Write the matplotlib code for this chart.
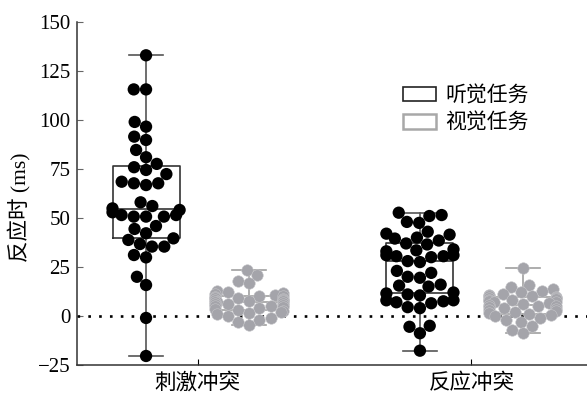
import numpy as np
import matplotlib
matplotlib.use("Agg")
import matplotlib.pyplot as plt
from matplotlib.patches import Patch

# conditions and tasks
conditions = ['刺激冲突', '反应冲突']
tasks = ['听觉任务', '视觉任务']

# individual reaction-time effects (ms)
audio_stim = [133, 115.6, 115.6, 99, 96.6, 91.5, 89.8, 84.7, 81, 77.6, 75.9,
              74.5, 72.4, 68.5, 67.7, 67.7, 66.8, 58, 56.1, 54.9, 54.1, 52.9,
              51.5, 51.5, 50.7, 50.7, 50.7, 45.9, 44.4, 42.2, 39.6, 38.8, 36.7,
              35.4, 35.4, 31.1, 29.9, 20, 15.8, -1, -20.4]
visual_stim = [23.5, 21, 18, 17, 13, 12, 11.5, 11, 10.5, 10, 10, 9.5, 9, 9,
               8.5, 8, 8, 7.5, 7.5, 7, 7, 6.5, 6, 6, 5.5, 5, 5, 4.5, 4, 3.5,
               3, 2.5, 2, 1.5, 1, 0, -1, -2, -3, -4.5]
audio_resp = [52.7, 51.5, 51, 48, 47.5, 43, 42, 41.5, 40, 39.5, 38.5, 37,
              36.5, 34, 33.5, 33, 31, 31, 30.5, 30.5, 30, 28, 27.5, 23, 22,
              20, 19.5, 16, 15.5, 15, 12, 11.5, 11, 10.5, 8, 8, 7.5, 7, 6.5,
              4.5, 4, -5.5, -5, -8.8, -17.7]
visual_resp = [24.3, 16, 15, 14, 13, 12, 11, 10.5, 10, 10, 9.5, 9, 9, 8.5, 8,
               8, 7.5, 7, 7, 6.5, 6, 5.5, 5, 5, 4.5, 4, 3.5, 3, 2.5, 2, 1.5,
               1, 0.5, 0, -1, -2, -3, -5, -7, -8.8]

# box summaries: q1, median, q3, whisker low, whisker high
box_q1 = [39.6, 3.0, 11.6, 0.8]
box_med = [54.4, 7.0, 28.0, 5.5]
box_q3 = [76.7, 10.0, 37.1, 9.5]
box_lo = [-20.4, -4.5, -17.7, -8.8]
box_hi = [133, 23.5, 52.7, 24.3]

groups = [audio_stim, visual_stim, audio_resp, visual_resp]
offset = 0.188
positions = [0 - offset, 0 + offset, 1 - offset, 1 + offset]
box_w = 0.245

black = '#000000'
grey = '#a4a4aa'
colors = [black, grey, black, grey]
edge_colors = ['#333333', '#a0a0a0', '#333333', '#a0a0a0']

plt.rcParams['font.family'] = ['Liberation Serif', 'Noto Sans CJK SC']
plt.rcParams['axes.unicode_minus'] = True

W, H, DPI = 5.87, 3.96, 100
fig = plt.figure(figsize=(W, H), dpi=DPI)
ax_rect = [0.1317, 0.0783, 0.8683, 0.8662]
ax = fig.add_axes(ax_rect)
xlim = (-0.439, 1.422)
ylim = (-25, 150)
ax.set_xlim(*xlim)
ax.set_ylim(*ylim)

# pixel scale used to lay out the swarms
px_x = W * DPI * ax_rect[2] / (xlim[1] - xlim[0])
px_y = H * DPI * ax_rect[3] / (ylim[1] - ylim[0])


def swarm(vals, diam, half_w):
    y = np.asarray(vals, dtype=float) * px_y
    xs = np.zeros(len(y))
    px, py = [], []
    for i in np.argsort(y):
        cands = [0.0]
        for a, b in zip(px, py):
            dy = y[i] - b
            if abs(dy) < diam:
                dx = np.sqrt(diam ** 2 - dy ** 2)
                cands += [a - dx, a + dx]
        cands.sort(key=abs)
        for c in cands:
            if all((c - a) ** 2 + (y[i] - b) ** 2 >= diam ** 2 - 1e-6
                   for a, b in zip(px, py)):
                break
        px.append(c)
        py.append(y[i])
        xs[i] = np.clip(c, -half_w, half_w)
    return xs / px_x


stats = []
for k in range(4):
    stats.append(dict(q1=box_q1[k], med=box_med[k], q3=box_q3[k],
                      whislo=box_lo[k], whishi=box_hi[k], fliers=[]))

for k in range(4):
    ec = edge_colors[k]
    wc = '#555555' if k % 2 == 0 else ec
    ax.bxp([stats[k]], positions=[positions[k]], widths=box_w,
           showfliers=False, manage_ticks=False,
           boxprops=dict(color=ec, lw=1.2),
           medianprops=dict(color=ec, lw=1.2),
           whiskerprops=dict(color=wc, lw=1.2),
           capprops=dict(color=wc, lw=1.2))

ax.axhline(0, color='black', lw=1.9, linestyle=(0, (1, 3.1)), zorder=2.5)

for k in range(4):
    diam = 12.3 if k % 2 == 0 else 11.5
    xs = swarm(groups[k], diam, box_w * px_x / 2)
    ax.scatter(positions[k] + xs, groups[k], s=(diam * 72 / DPI) ** 2,
               color=colors[k], edgecolors='none' if k % 2 == 0 else '#c4c4c8',
               linewidths=0.4, zorder=3)

ax.set_xticks([0, 1])
ax.set_xticklabels(conditions, fontsize=15.5)
ax.set_yticks([-25, 0, 25, 50, 75, 100, 125, 150])
ax.tick_params(axis='y', labelsize=15, direction='in', length=4.3,
               width=0.8, color='#666666', pad=5)
ax.tick_params(axis='x', direction='in', length=4.3, width=0.8, pad=6)

ax.spines['top'].set_visible(False)
ax.spines['right'].set_visible(False)
for s in ['left', 'bottom']:
    ax.spines[s].set_color('#333333')
    ax.spines[s].set_linewidth(1.1)

ax.set_ylabel('反应时 (ms)', fontsize=15.5)
ax.yaxis.set_label_coords(-0.089, 0.46)

handles = [Patch(facecolor='white', edgecolor='#222222', lw=1.2),
           Patch(facecolor='white', edgecolor='#a8a8a8', lw=1.8)]
ax.legend(handles, tasks, frameon=False, fontsize=15, loc='upper left',
          bbox_to_anchor=(0.611, 0.855), handlelength=1.55, handleheight=0.7,
          handletextpad=0.45, labelspacing=0.35, borderpad=0.2)

fig.savefig('out.png', dpi=DPI)
